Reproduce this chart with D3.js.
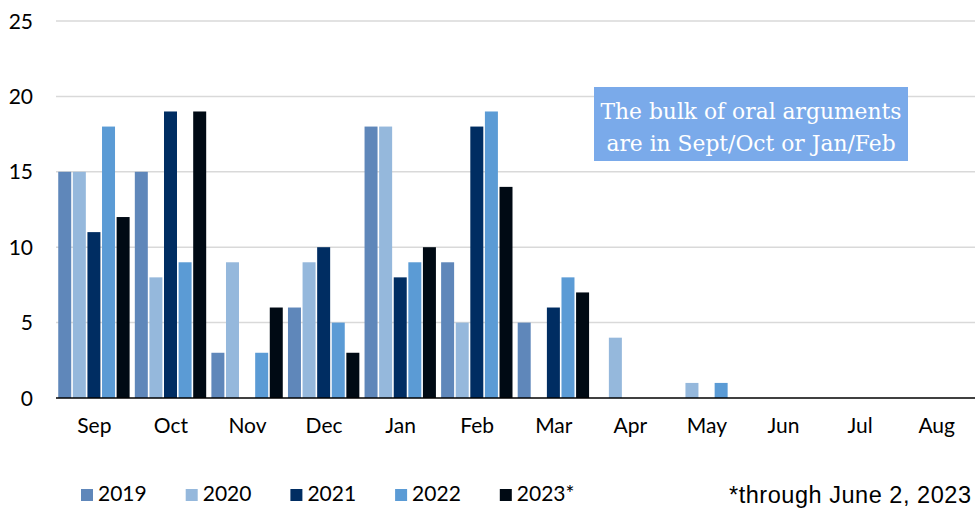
<!DOCTYPE html>
<html><head><meta charset="utf-8">
<script src="https://cdn.jsdelivr.net/npm/d3@7"></script>
<style>html,body{margin:0;padding:0;background:#fff;}svg{display:block;}</style>
</head><body>
<script>
const months = ["Sep","Oct","Nov","Dec","Jan","Feb","Mar","Apr","May","Jun","Jul","Aug"];
const years = ["2019","2020","2021","2022","2023*"];
const v2019 = [15,15,3,6,18,9,5,0,0,0,0,0];
const v2020 = [15,8,9,9,18,5,0,4,1,0,0,0];
const v2021 = [11,19,0,10,8,18,6,0,0,0,0,0];
const v2022 = [18,9,3,5,9,19,8,0,1,0,0,0];
const v2023 = [12,19,6,3,10,14,7,0,0,0,0,0];
const yTicks = [0,5,10,15,20,25];
const colors = ["#5f87ba","#95b8dc","#002d62","#5b9bd5","#000a14"];
const noteLines = ["The bulk of oral arguments","are in Sept/Oct or Jan/Feb"];
const footnote = "*through June 2, 2023";

const series = [v2019,v2020,v2021,v2022,v2023];
const W = 975, H = 509;
const svg = d3.select("body").append("svg").attr("width",W).attr("height",H);

const x = d3.scaleBand().domain(months).range([56,975]).paddingInner(0.047).paddingOuter(0.024);
const xs = d3.scaleBand().domain(years).range([0,x.bandwidth()]);
const y = d3.scaleLinear().domain([0,25]).range([398,21]);

// gridlines
svg.append("g").selectAll("line").data(yTicks.filter(t=>t>0)).join("line")
  .attr("x1",56).attr("x2",975).attr("y1",d=>y(d)).attr("y2",d=>y(d))
  .attr("stroke","#d9d9d9").attr("stroke-width",1.5);

// y labels
svg.append("g").selectAll("text").data(yTicks).join("text")
  .attr("x",33).attr("y",d=>y(d)+7.5).attr("text-anchor","end")
  .attr("font-family","Lato").attr("font-size",21).attr("fill","#000").text(d=>d);

// bars
const data = [];
months.forEach((m,i)=>years.forEach((yr,j)=>data.push({m,yr,v:series[j][i],c:colors[j]})));
svg.append("g").selectAll("rect").data(data.filter(d=>d.v>0)).join("rect")
  .attr("x",d=>x(d.m)+xs(d.yr)+0.4)
  .attr("width",xs.bandwidth()-1.6)
  .attr("y",d=>y(d.v)).attr("height",d=>y(0)-y(d.v))
  .attr("fill",d=>d.c);

// baseline
svg.append("line").attr("x1",56).attr("x2",975).attr("y1",y(0)).attr("y2",y(0))
  .attr("stroke","#000").attr("stroke-width",1.5);

// month labels
svg.append("g").selectAll("text").data(months).join("text")
  .attr("x",d=>x(d)+x.bandwidth()/2).attr("y",433).attr("text-anchor","middle")
  .attr("font-family","Lato").attr("font-size",21).attr("fill","#000").text(d=>d);

// annotation
svg.append("rect").attr("x",594).attr("y",87).attr("width",314).attr("height",74).attr("fill","#7aaaea");
svg.append("g").selectAll("text").data(noteLines).join("text")
  .attr("x",751).attr("y",(d,i)=>118.5+i*32).attr("text-anchor","middle")
  .attr("font-family","DejaVu Serif").attr("font-size",21.8).attr("fill","#fff").text(d=>d);

// legend
const lg = svg.append("g").selectAll("g").data(years).join("g")
  .attr("transform",(d,i)=>`translate(${81+i*104.7},0)`);
lg.append("rect").attr("x",0).attr("y",489).attr("width",12).attr("height",12).attr("fill",(d,i)=>colors[i]);
lg.append("text").attr("x",17).attr("y",501).attr("font-family","Lato").attr("font-size",21).attr("fill","#000").text(d=>d);

// footnote
svg.append("text").attr("x",729).attr("y",503).attr("font-family","Liberation Sans").attr("font-size",23.5)
  .attr("textLength",242).attr("lengthAdjust","spacing").attr("fill","#000").text(footnote);
</script>
</body></html>
